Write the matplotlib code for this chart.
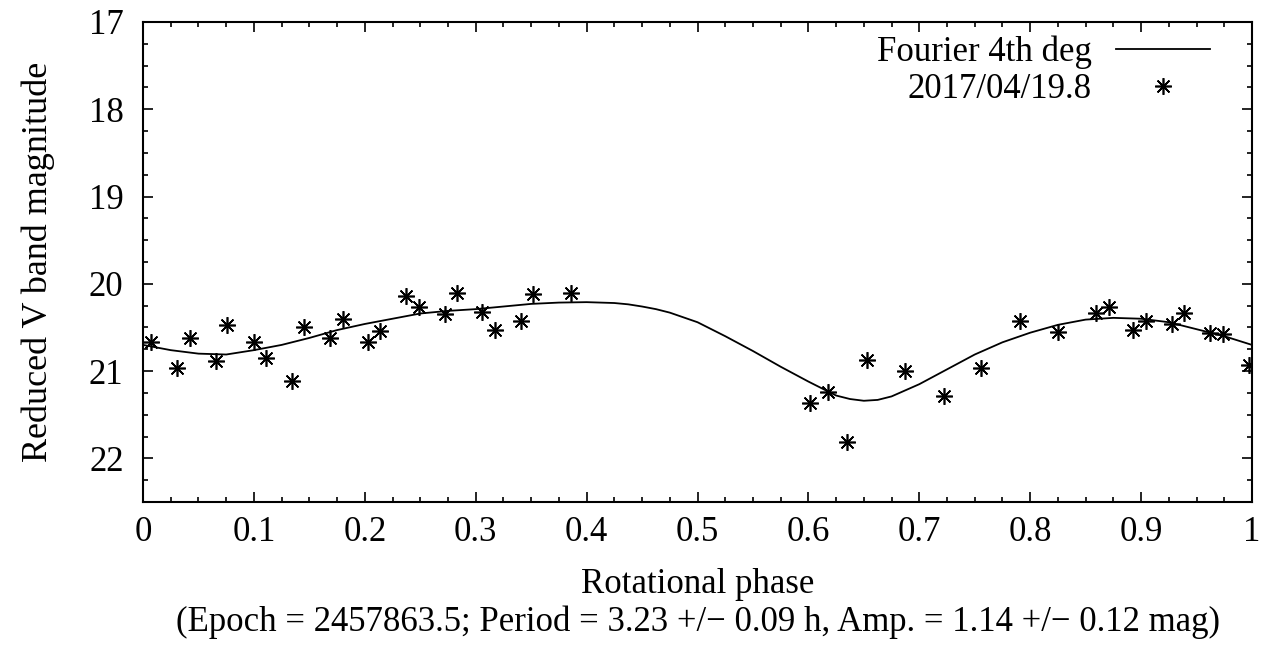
import numpy as np
import matplotlib
matplotlib.use("Agg")
import matplotlib.pyplot as plt
from matplotlib.ticker import MultipleLocator

# observed points (rotational phase, reduced V magnitude)
phase = [0.007, 0.031, 0.042, 0.066, 0.076, 0.100, 0.111, 0.134, 0.145, 0.169,
         0.180, 0.203, 0.214, 0.237, 0.249, 0.272, 0.283, 0.306, 0.317, 0.341,
         0.352, 0.386, 0.601, 0.618, 0.635, 0.653, 0.687, 0.722, 0.756, 0.791,
         0.825, 0.859, 0.871, 0.893, 0.904, 0.928, 0.939, 0.962, 0.974, 0.997]
mag = [20.67, 20.96, 20.62, 20.89, 20.47, 20.67, 20.85, 21.11, 20.50, 20.62,
       20.40, 20.67, 20.54, 20.14, 20.27, 20.35, 20.10, 20.32, 20.53, 20.43,
       20.12, 20.10, 21.37, 21.24, 21.81, 20.87, 21.00, 21.28, 20.97, 20.43,
       20.55, 20.34, 20.26, 20.53, 20.43, 20.46, 20.34, 20.56, 20.57, 20.93]

# Fourier 4th degree curve
curve_phase = [0.000, 0.025, 0.050, 0.075, 0.100, 0.125, 0.150, 0.175, 0.200, 0.225,
               0.250, 0.275, 0.300, 0.325, 0.350, 0.375, 0.400, 0.425, 0.4375, 0.450,
               0.4625, 0.475, 0.500, 0.525, 0.550, 0.575, 0.600, 0.625, 0.6375, 0.650,
               0.6625, 0.675, 0.700, 0.725, 0.750, 0.775, 0.800, 0.825, 0.850, 0.875,
               0.900, 0.925, 0.950, 0.975, 1.000]
curve_mag = [20.70, 20.76, 20.80, 20.81, 20.76, 20.70, 20.62, 20.53, 20.46, 20.40,
             20.34, 20.31, 20.29, 20.26, 20.23, 20.215, 20.21, 20.22, 20.235, 20.26,
             20.29, 20.33, 20.44, 20.60, 20.77, 20.95, 21.12, 21.28, 21.32, 21.34,
             21.33, 21.29, 21.15, 20.98, 20.81, 20.67, 20.56, 20.47, 20.41, 20.39,
             20.40, 20.44, 20.52, 20.60, 20.70]

xtick_labels = ["0", "0.1", "0.2", "0.3", "0.4", "0.5", "0.6", "0.7", "0.8", "0.9", "1"]

plt.rcParams["font.family"] = ["Liberation Serif", "DejaVu Serif"]
plt.rcParams["font.size"] = 25

fig = plt.figure(figsize=(12.69, 6.47), dpi=100)
ax = fig.add_axes([0.1127, 0.2241, 0.8739, 0.7419])

ax.plot(curve_phase, curve_mag, color="black", lw=1.3, label="Fourier 4th deg")
ax.plot(phase, mag, ls="none", marker=(8, 2, 0), ms=12, mew=1.2,
        color="black", label="2017/04/19.8")

ax.set_xlim(0, 1)
ax.set_ylim(22.5, 17)
ax.set_xticks(np.arange(0, 1.01, 0.1))
ax.set_xticklabels(xtick_labels)
ax.xaxis.set_minor_locator(MultipleLocator(0.025))
ax.yaxis.set_major_locator(MultipleLocator(1))
ax.yaxis.set_minor_locator(MultipleLocator(0.25))
ax.tick_params(which="both", direction="in", top=True, right=True, width=1.2)
ax.tick_params(which="major", length=7)
ax.tick_params(which="minor", length=3.5)
ax.tick_params(axis="x", pad=10)
ax.tick_params(axis="y", pad=14)
for s in ax.spines.values():
    s.set_linewidth(1.5)

ax.set_ylabel("Reduced V band magnitude", labelpad=24, fontsize=26)
ax.set_xlabel("Rotational phase\n(Epoch = 2457863.5; Period = 3.23 +/\u2212 0.09 h, Amp. = 1.14 +/\u2212 0.12 mag)",
              labelpad=14, linespacing=1.15)

leg = ax.legend(loc="upper right", bbox_to_anchor=(0.962, 0.972), frameon=False,
                markerfirst=False, handlelength=2.7, labelspacing=0.12,
                borderaxespad=0, borderpad=0, handletextpad=0.7)
for col in leg._legend_handle_box.get_children():
    col.align = "right"

fig.savefig("out.png", dpi=100)
